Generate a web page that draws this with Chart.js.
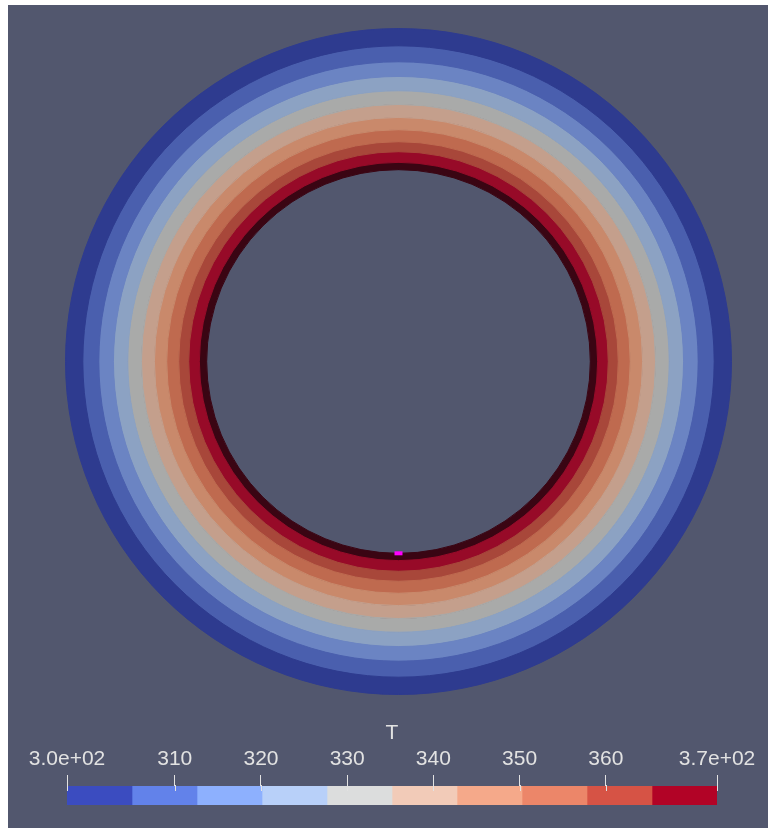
<!DOCTYPE html>
<html>
<head>
<meta charset="utf-8">
<title>T</title>
<script src="https://cdn.jsdelivr.net/npm/chart.js@4/dist/chart.umd.min.js"></script>
<style>
  html, body { margin: 0; padding: 0; background: #ffffff; }
  #view { position: absolute; left: 8px; top: 5px; width: 760px; height: 823px; background: #52576e; overflow: hidden; }
  #ring { position: absolute; left: 57px; top: 23px; }
  #bar { position: absolute; left: 0px; top: 710px; }
</style>
</head>
<body>
<div id="view">
  <canvas id="ring" width="667" height="667"></canvas>
  <canvas id="bar" width="760" height="100"></canvas>
</div>
<script>
// isotherm radii, r / r_outer, outer wall to inner wall
const bandEdges = [1.000, 0.948, 0.900, 0.856, 0.813, 0.772, 0.733, 0.696, 0.660, 0.630, 0.598, 0.576];
const bandNames = ['297.5-305.0', '305.0-312.6', '312.6-320.1', '320.1-327.7', '327.7-335.2',
                   '335.2-342.7', '342.7-350.3', '350.3-357.8', '357.8-365.4', '365.4-372.9', 'inner wall'];
const bandColors = ['#2e3b8f', '#4a5fae', '#6b84c3', '#8ca2c3', '#a9aaa9',
                    '#c49f8c', '#c9896b', '#bf6a4f', '#a8473a', '#970a28', '#3a0513'];

// colour legend: bin edges of T and the lookup table colours
const binEdges = [297.5, 305.04, 312.58, 320.12, 327.66, 335.2, 342.74, 350.28, 357.82, 365.36, 372.9];
const binColors = ['#3b4cc0', '#6282ea', '#8db0fe', '#b8d0f9', '#dcdddd',
                   '#f2cbb8', '#f5a98a', '#ec8669', '#d65345', '#b20326'];
const tickValues = [297.5, 310, 320, 330, 340, 350, 360, 372.9];
const tickLabels = ['3.0e+02', '310', '320', '330', '340', '350', '360', '3.7e+02'];

const textColor = '#e2e2e2';
const textFont = { family: 'Liberation Sans, Arial, sans-serif', size: 21 };

// ring: one doughnut dataset per isotherm band, thickness = weight
const ringSets = [];
for (let i = 0; i < bandNames.length; i++) {
    ringSets.push({
        label: bandNames[i],
        data: [1],
        backgroundColor: bandColors[i],
        borderColor: bandColors[i],   // same colour, hides the anti-alias seams
        borderWidth: 1,
        weight: bandEdges[i] - bandEdges[i + 1],
    });
}

const probeDot = {
    id: 'probeDot',
    afterDraw(chart) {
        const arc = chart.getDatasetMeta(chart.data.datasets.length - 1).data[0];
        const ctx = chart.ctx;
        ctx.save();
        ctx.fillStyle = '#ff00ff';
        ctx.fillRect(arc.x - 4, arc.y + arc.innerRadius - 2, 8, 4);
        ctx.restore();
    }
};

new Chart(document.getElementById('ring'), {
    type: 'doughnut',
    data: { labels: ['T'], datasets: ringSets },
    options: {
        responsive: false,
        animation: false,
        events: [],
        cutout: (bandEdges[bandEdges.length - 1] * 100) + '%',
        layout: { padding: 0 },
        elements: { arc: { offset: 0, hoverOffset: 0, spacing: 0 } },
        plugins: { legend: { display: false }, tooltip: { enabled: false } },
    },
    plugins: [probeDot],
});

// colour bar
const barSets = [];
for (let i = 0; i < binColors.length; i++) {
    barSets.push({
        data: [[binEdges[i], binEdges[i + 1]]],
        backgroundColor: binColors[i],
        borderWidth: 0,
        grouped: false,
        barPercentage: 1,
        categoryPercentage: 1,
    });
}

const tickInk = {
    id: 'tickInk',
    afterDatasetsDraw(chart) {
        const sx = chart.scales.x;
        const top = chart.chartArea.top;
        const ctx = chart.ctx;
        ctx.save();
        ctx.strokeStyle = textColor;
        ctx.lineWidth = 1;
        sx.ticks.forEach(t => {
            const x = Math.round(sx.getPixelForValue(t.value)) + 0.5;
            ctx.beginPath();
            ctx.moveTo(x, top - 1);
            ctx.lineTo(x, top + 5);
            ctx.stroke();
        });
        ctx.restore();
    }
};

new Chart(document.getElementById('bar'), {
    type: 'bar',
    data: { labels: ['T'], datasets: barSets },
    options: {
        responsive: false,
        animation: false,
        events: [],
        indexAxis: 'y',
        layout: { padding: { left: 59, right: 51, top: 5, bottom: 10 } },
        plugins: { legend: { display: false }, tooltip: { enabled: false } },
        scales: {
            x: {
                type: 'linear',
                position: 'top',
                min: binEdges[0],
                max: binEdges[binEdges.length - 1],
                afterBuildTicks: s => { s.ticks = tickValues.map(v => ({ value: v })); },
                afterFit: s => { s.height = 66; },
                ticks: {
                    autoSkip: false,
                    maxRotation: 0,
                    padding: 3,
                    color: textColor,
                    font: textFont,
                    callback: (v, i) => tickLabels[i],
                },
                grid: { drawOnChartArea: false, drawTicks: true, tickLength: 11, color: textColor, lineWidth: 1 },
                border: { display: false },
                title: { display: true, text: 'T', color: textColor, font: textFont, padding: { top: 1, bottom: 0 } },
            },
            y: { display: false },
        },
    },
    plugins: [tickInk],
});
</script>
</body>
</html>
